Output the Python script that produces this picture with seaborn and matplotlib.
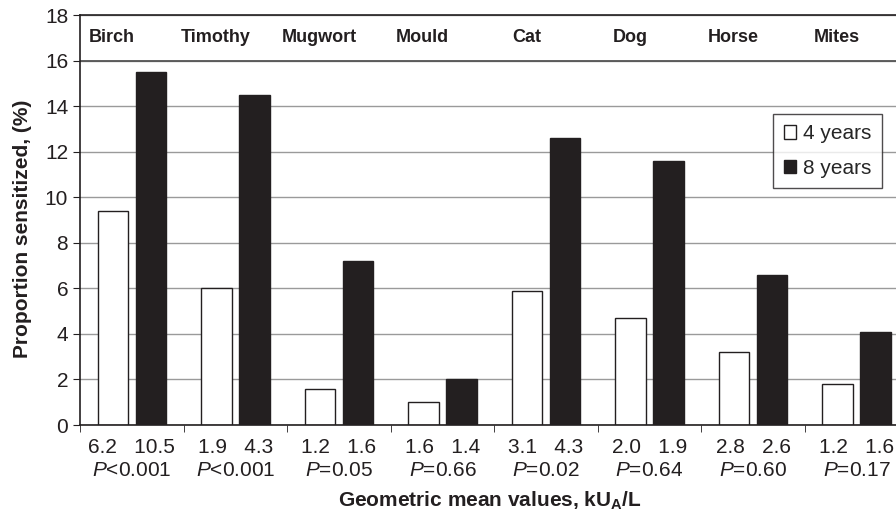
import pandas as pd
import numpy as np
import matplotlib
matplotlib.use('Agg')
import matplotlib.pyplot as plt
import seaborn as sns

# values
allergens = ['Birch', 'Timothy', 'Mugwort', 'Mould', 'Cat', 'Dog', 'Horse', 'Mites']
pct_4y = [9.4, 6.0, 1.6, 1.0, 5.9, 4.7, 3.2, 1.8]
pct_8y = [15.5, 14.5, 7.2, 2.0, 12.6, 11.6, 6.6, 4.1]
gm_4y = ['6.2', '1.9', '1.2', '1.6', '3.1', '2.0', '2.8', '1.2']
gm_8y = ['10.5', '4.3', '1.6', '1.4', '4.3', '1.9', '2.6', '1.6']
p_values = ['<0.001', '<0.001', '=0.05', '=0.66', '=0.02', '=0.64', '=0.60', '=0.17']
ages = ['4 years', '8 years']

df = pd.DataFrame({
    'allergen': allergens * 2,
    'age': [ages[0]] * len(allergens) + [ages[1]] * len(allergens),
    'pct': pct_4y + pct_8y,
})

sns.set_style('white')
plt.rcParams['font.family'] = ['Liberation Sans', 'DejaVu Sans']
plt.rcParams['mathtext.fontset'] = 'custom'
plt.rcParams['mathtext.rm'] = 'Liberation Sans'
plt.rcParams['mathtext.it'] = 'Liberation Sans:italic'
plt.rcParams['mathtext.bf'] = 'Liberation Sans:bold'

ink = '#231f20'

fig = plt.figure(figsize=(8.96, 5.18), dpi=100)
ax = fig.add_axes([0.0893, 0.1795, 0.9107, 0.7915])

sns.barplot(data=df, x='allergen', y='pct', hue='age', order=allergens,
            palette={ages[0]: 'white', ages[1]: ink},
            width=0.735, gap=0.2, edgecolor=ink, linewidth=1,
            saturation=1, ax=ax)

ax.set_xlim(-0.5, 7.38)
ax.set_ylim(0, 18)
ax.set_yticks(np.arange(0, 19, 2))
ax.set_axisbelow(True)
ax.yaxis.grid(True, color='#9a9a9a', lw=1)
ax.axhline(16, color='#555555', lw=1.3, zorder=1)

for s in ['left', 'bottom', 'top']:
    ax.spines[s].set_color(ink)
    ax.spines[s].set_linewidth(1.2)
ax.spines['right'].set_visible(False)

# category names in the strip at the top
for i, name in enumerate(allergens):
    ax.text(i - 0.19, 17, name, ha='center', va='center',
            fontsize=13, fontweight='bold', color=ink)

labels = [f'{a}   {b}\n$P${p}' for a, b, p in zip(gm_4y, gm_8y, p_values)]
ax.set_xticks(range(len(allergens)))
ax.set_xticklabels(labels, fontsize=15, color=ink, linespacing=1.3)
ax.set_xticks(np.arange(-0.5, 7.0, 1), minor=True)
ax.tick_params(axis='x', which='major', length=0, pad=9)
ax.tick_params(axis='x', which='minor', length=5, direction='out',
               color=ink, bottom=True)
ax.tick_params(axis='y', length=5, direction='out', color=ink,
               labelsize=15, labelcolor=ink, left=True)

ax.set_xlabel('Geometric mean values, kU$_\\mathbf{A}$/L', fontsize=15,
              fontweight='bold', color=ink)
ax.xaxis.label.set_va('center')
ax.xaxis.set_label_coords(0.502, -0.185)
ax.set_ylabel('Proportion sensitized, (%)', fontsize=15,
              fontweight='bold', color=ink)
ax.yaxis.label.set_va('center')
ax.yaxis.set_label_coords(-0.071, 0.478)

leg = ax.legend(loc='upper right', bbox_to_anchor=(0.983, 0.7585),
                borderaxespad=0, fontsize=15, frameon=True, fancybox=False,
                handlelength=0.6, handleheight=0.6, handletextpad=0.35,
                borderpad=0.5, labelspacing=0.75, title=None)
leg.get_frame().set_edgecolor(ink)
leg.get_frame().set_linewidth(1)

fig.savefig('out.png', dpi=100)
